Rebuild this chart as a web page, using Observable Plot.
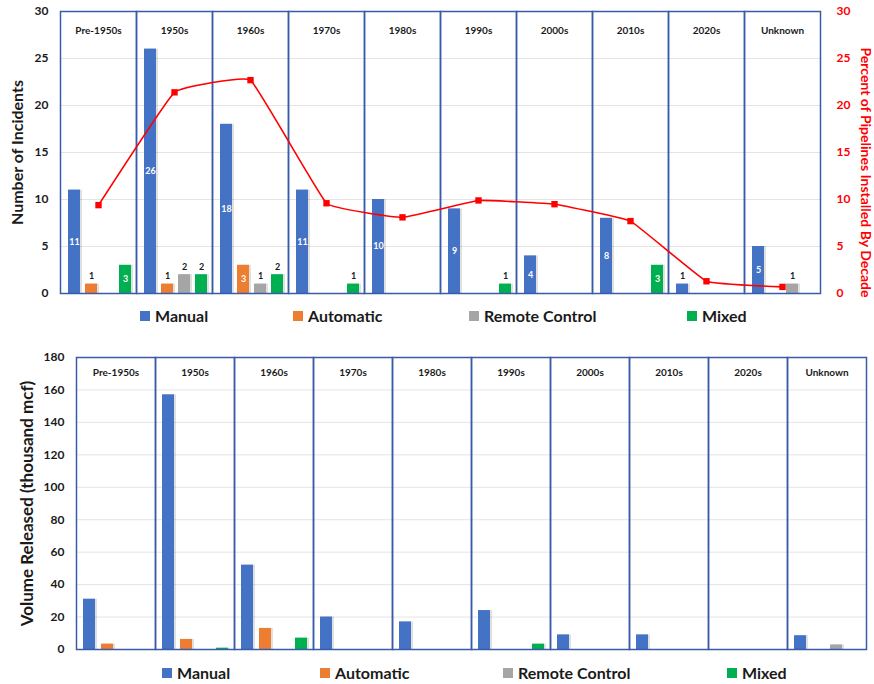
<!DOCTYPE html>
<html>
<head>
<meta charset="utf-8">
<script src="https://cdn.jsdelivr.net/npm/d3@7"></script>
<script src="https://cdn.jsdelivr.net/npm/@observablehq/plot@0.6"></script>
<style>
  body { margin: 0; background: #fff; font-family: Lato, "Open Sans", sans-serif; }
  #wrap { position: relative; width: 874px; height: 684px; overflow: hidden; background: #fff; }
  .layer { position: absolute; left: 0; }
  .item { position: absolute; display: flex; align-items: center; font-size: 16px; font-weight: 700; color: #1a1a1a; white-space: nowrap; line-height: 1; }
  .sw { width: 10px; height: 10px; margin-right: 5px; display: inline-block; }
</style>
</head>
<body>
<div id="wrap"></div>
<script>
// ---------- data ----------
const decades = ["Pre-1950s", "1950s", "1960s", "1970s", "1980s", "1990s", "2000s", "2010s", "2020s", "Unknown"];
const series = ["Manual", "Automatic", "Remote Control", "Mixed"];

// Number of incidents
const incManual    = [11, 26, 18, 11, 10, 9, 4, 8, 1, 5];
const incAutomatic = [1, 1, 3, 0, 0, 0, 0, 0, 0, 0];
const incRemote    = [0, 2, 1, 0, 0, 0, 0, 0, 0, 1];
const incMixed     = [3, 2, 2, 1, 0, 1, 0, 3, 0, 0];

// Percent of pipelines installed by decade
const pctInstalled = [9.4, 21.4, 22.7, 9.6, 8.1, 9.9, 9.5, 7.7, 1.3, 0.7];

// Volume released (thousand mcf)
const volManual    = [31, 157, 52, 20, 17, 24, 9, 9, 0, 8.5];
const volAutomatic = [3.3, 6.2, 13, 0, 0, 0, 0, 0, 0, 0];
const volRemote    = [0, 0, 0, 0, 0, 0, 0, 0, 0, 2.8];
const volMixed     = [0, 0.8, 7, 0, 0, 3.3, 0, 0, 0, 0];

const incTicks = [0, 5, 10, 15, 20, 25, 30];
const pctTicks = [0, 5, 10, 15, 20, 25, 30];
const volTicks = [0, 20, 40, 60, 80, 100, 120, 140, 160, 180];

// ---------- styling ----------
const colors = ["#4472C4", "#ED7D31", "#A5A5A5", "#00B050"];
const red = "#ff0000";
const frameColor = "#3a5ba8";
const ink = "#1a1a1a";
const FONT = "Lato, 'Open Sans', sans-serif";

function toRows(arrays) {
  const rows = [];
  decades.forEach((d, i) => series.forEach((s, j) => rows.push({decade: d, series: s, value: arrays[j][i]})));
  return rows;
}
const incRows = toRows([incManual, incAutomatic, incRemote, incMixed]);
const volRows = toRows([volManual, volAutomatic, volRemote, volMixed]);
const pctRows = decades.map((d, i) => ({decade: d, pct: pctInstalled[i]}));

function barChart({rows, height, margin, yDomain, yTicks, title, titleDx, titleSize, labelDy, valueLabels}) {
  const nz = rows.filter(r => r.value > 0);
  const marks = [
    Plot.gridY(yTicks, {stroke: "#e4e4e4", strokeOpacity: 1}),
    Plot.barY(nz, {fx: "decade", x: "series", y: "value", fill: "#000", fillOpacity: 0.12, dx: 2}),
    Plot.barY(nz, {fx: "decade", x: "series", y: "value", fill: "series"})
  ];
  if (valueLabels) {
    marks.push(
      Plot.text(nz.filter(r => r.value >= 3), {fx: "decade", x: "series", y: r => r.value / 2, text: "value",
        fill: "white", fontSize: 9, fontWeight: "bold"}),
      Plot.text(nz.filter(r => r.value < 3), {fx: "decade", x: "series", y: "value", text: "value", dy: -8,
        fill: ink, fontSize: 9, fontWeight: "bold"})
    );
  }
  marks.push(
    Plot.text(decades, {fx: d => d, text: d => d, frameAnchor: "top", lineAnchor: "middle", dy: labelDy,
      fontSize: 10, fontWeight: "bold", fill: ink}),
    Plot.frame({stroke: frameColor, strokeWidth: 1.5}),
    Plot.axisY({ticks: yTicks, tickSize: 0, tickPadding: 12, fontSize: 12, fontWeight: "bold", label: null, color: ink}),
    Plot.text([title], {fx: () => decades[0], text: d => d, frameAnchor: "left", rotate: -90, dx: titleDx,
      textAnchor: "middle", lineAnchor: "middle", fontSize: titleSize, fontWeight: "bold", fill: ink})
  );
  return Plot.plot({
    width: 874, height,
    marginTop: margin[0], marginRight: margin[1], marginBottom: margin[2], marginLeft: margin[3],
    fx: {domain: decades, padding: 0, axis: null},
    x: {domain: series, paddingInner: 0.32, paddingOuter: 0.34, align: 0.58, axis: null},
    y: {domain: yDomain},
    color: {domain: series, range: colors},
    style: {fontFamily: FONT, fontSize: "12px", background: "transparent", color: ink},
    marks
  });
}

const wrap = document.getElementById("wrap");
function place(el, top) { el.classList.add("layer"); el.style.top = top + "px"; wrap.appendChild(el); }

// ---- top chart: incidents ----
const topMargin = [11, 50, 7, 55];
const top1 = barChart({rows: incRows, height: 300, margin: topMargin, yDomain: [0, 30], yTicks: incTicks,
  title: "Number of Incidents", titleDx: -43, titleSize: 16, labelDy: 19.5, valueLabels: true});
place(top1, 0);

const top2 = Plot.plot({
  width: 874, height: 300,
  marginTop: topMargin[0], marginRight: topMargin[1], marginBottom: topMargin[2], marginLeft: topMargin[3],
  x: {type: "point", domain: decades, padding: 0.5, axis: null},
  y: {domain: [0, 30]},
  style: {fontFamily: FONT, fontSize: "12px", background: "transparent"},
  marks: [
    Plot.axisY({anchor: "right", ticks: pctTicks, tickSize: 0, tickPadding: 12, fontSize: 12, fontWeight: "bold",
      label: null, color: red}),
    Plot.line(pctRows, {x: "decade", y: "pct", stroke: red, strokeWidth: 1.6, curve: "cardinal", tension: 0.75}),
    Plot.dot(pctRows, {x: "decade", y: "pct", symbol: "square", fill: red, r: 3.6}),
    Plot.text(["Percent of Pipelines Installed By Decade"], {text: d => d, frameAnchor: "right", rotate: 90,
      dx: 41, dy: 20, textAnchor: "middle", lineAnchor: "middle", fontSize: 14, fontWeight: "bold", fill: red})
  ]
});
place(top2, 0);

// ---- bottom chart: volume ----
const bottom = barChart({rows: volRows, height: 320, margin: [17, 7, 11, 74], yDomain: [0, 180], yTicks: volTicks,
  title: "Volume Released (thousand mcf)", titleDx: -49, titleSize: 17, labelDy: 15.5, valueLabels: false});
place(bottom, 340);

// ---- legends ----
function legend(top, lefts) {
  series.forEach((s, i) => {
    const it = document.createElement("div");
    it.className = "item";
    it.style.left = lefts[i] + "px";
    it.style.top = top + "px";
    const sw = document.createElement("span");
    sw.className = "sw";
    sw.style.background = colors[i];
    const tx = document.createElement("span");
    tx.textContent = s;
    it.appendChild(sw); it.appendChild(tx);
    wrap.appendChild(it);
  });
}
legend(308, [140, 293, 469, 687]);
legend(665, [162, 320, 503, 727]);
</script>
</body>
</html>
